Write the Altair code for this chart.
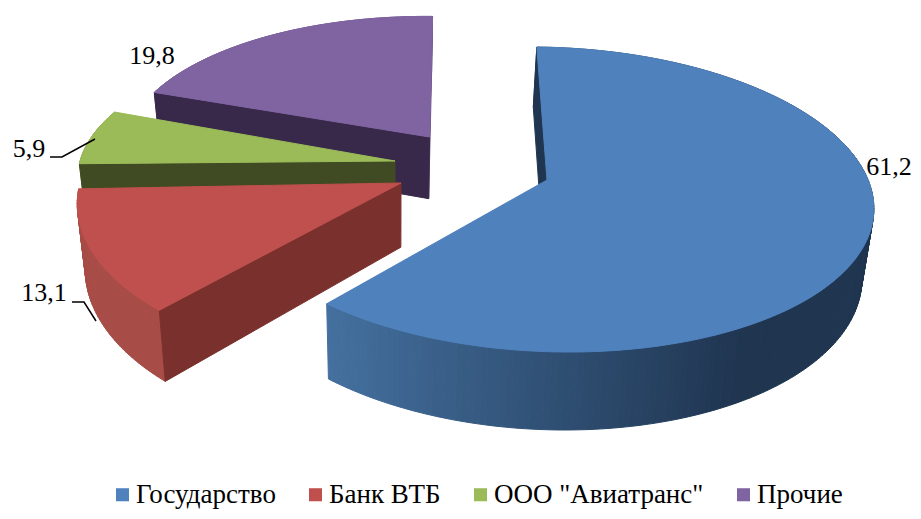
import math
import altair as alt
import pandas as pd

categories = ["Государство", "Банк ВТБ", "ООО \"Авиатранс\"", "Прочие"]
shares = [61.2, 13.1, 5.9, 19.8]
top_colors = ["#4f81bd", "#c0504d", "#9bbb59", "#8064a2"]
wall_colors = ["#1f3550", "#7a312e", "#404b23", "#38294a"]
end_wall_colors = ["#1f3550", "#7a312e", "#404b23", "#6b5388"]
show_end_wall = [False, False, False, True]
outer_light = ["#44709f", "#a84c47", "#7c9647", "#66508a"]
outer_dark = ["#1f3550", "#9c4540", "#7c9647", "#66508a"]

# layout of the drawing, in picture pixels
PAGE = 8
W, H = 905, 503
CX, CY = 396.0, 180.0
RADIUS, A, K = 325.0, 150.0, 0.128
VANISH = 0.025
START = 1.4
hubs = [(547, 180), (401, 183), (395, 161), (429.5, 137)]
depths = [68, 64, 68, 64]
x_scale = [0.988, 0.985, 0.985, 0.97]
v_scale = [1.0, 1.04, 0.955, 0.97]
start_adjust = [0, 1.2, 0, 0]
end_adjust = [0, -1, 1.5, 0]


def project(u, v):
    d = 1 + K * v
    return CX + u / d, CY - A * v / d


def drop(u, v, depth):
    x, y = project(u, v)
    return x + (CX - x) * VANISH, y + depth / (1 + K * v)


def hub_offset(ax, ay):
    dy = CY - ay
    v = dy / (A - K * dy)
    return (ax - CX) * (1 + K * v), v


def mix(a, b, t):
    t = max(0.0, min(1.0, t))
    pa = [int(a[i:i + 2], 16) for i in (1, 3, 5)]
    pb = [int(b[i:i + 2], 16) for i in (1, 3, 5)]
    return "#%02x%02x%02x" % tuple(round(p + (q - p) * t) for p, q in zip(pa, pb))


rows = []
pid = [0]


def poly(points, color):
    pid[0] += 1
    for n, (x, y) in enumerate(points):
        rows.append({"id": pid[0], "n": n, "x": x, "y": y, "c": color})


spans = []
a0 = START
for s in shares:
    spans.append((a0, a0 + s * 3.6))
    a0 += s * 3.6

centers = []
for idx in [3, 2, 1, 0]:
    u0, v0 = hub_offset(*hubs[idx])
    t0, t1 = spans[idx]
    t0 += start_adjust[idx]
    t1 += end_adjust[idx]
    vs = v_scale[idx]
    rs = RADIUS * x_scale[idx]
    dp = depths[idx]
    steps = max(4, int(t1 - t0))
    arc = []
    for i in range(steps + 1):
        t = math.radians(t0 + (t1 - t0) * i / steps)
        arc.append((u0 + rs * math.sin(t), v0 + vs * math.cos(t)))
    hub = (u0, v0)

    if show_end_wall[idx]:
        poly([project(*hub), project(*arc[-1]), drop(*arc[-1], dp), drop(*hub, dp)], end_wall_colors[idx])
    # outer curved wall, strip by strip
    for p, q in zip(arc[:-1], arc[1:]):
        tx = (project(*p)[0] - 327) / 420
        poly([project(*p), project(*q), drop(*q, dp), drop(*p, dp)],
             mix(outer_light[idx], outer_dark[idx], tx))
    poly([project(*hub), project(*arc[0]), drop(*arc[0], dp), drop(*hub, dp)], wall_colors[idx])
    # top surface
    poly([project(*hub)] + [project(*p) for p in arc], top_colors[idx])
    mid = arc[len(arc) // 2]
    centers.append((categories[idx], *project((hub[0] + mid[0]) / 2, (hub[1] + mid[1]) / 2)))

df = pd.DataFrame(rows)

xs = alt.X("x:Q", scale=alt.Scale(domain=[PAGE, PAGE + W], nice=False, zero=False), axis=None)
ys = alt.Y("y:Q", scale=alt.Scale(domain=[PAGE + H, PAGE], nice=False, zero=False), axis=None)

legend_df = pd.DataFrame(centers, columns=["cat", "x", "y"])
legend_layer = alt.Chart(legend_df).mark_square(size=1, opacity=1).encode(
    x=xs, y=ys,
    color=alt.Color("cat:N", sort=categories,
                    scale=alt.Scale(domain=categories, range=top_colors),
                    legend=alt.Legend(title=None, orient="none", legendX=101, legendY=473,
                                      direction="horizontal", columns=4, symbolType="square",
                                      symbolSize=170, symbolStrokeWidth=0, symbolOpacity=1,
                                      labelFont="Liberation Serif",
                                      labelFontSize=27, labelColor="#000000", labelOffset=0,
                                      columnPadding=26, gridAlign="each", labelLimit=400)),
)

shapes = alt.Chart(df).mark_line(interpolate="linear-closed", strokeWidth=1).encode(
    x=xs, y=ys, order="n:Q", detail="id:N",
    fill=alt.Fill("c:N", scale=None, legend=None),
    stroke=alt.Stroke("c:N", scale=None, legend=None),
)

label_values = ["61,2", "13,1", "5,9", "19,8"]
label_x = [889, 44, 29, 152]
label_y = [167, 293, 149, 56]
labels_df = pd.DataFrame({"t": label_values, "x": label_x, "y": label_y})
labels = alt.Chart(labels_df).mark_text(font="Liberation Serif", fontSize=26, color="#000000").encode(
    x=xs, y=ys, text="t:N")

leader_df = pd.DataFrame({
    "k": ["a", "a", "a", "b", "b", "b"],
    "n": [0, 1, 2, 0, 1, 2],
    "x": [50, 62, 95, 72, 84, 96],
    "y": [157, 157, 139, 302, 302, 321],
})
leaders = alt.Chart(leader_df).mark_line(color="#000000", strokeWidth=1.5).encode(
    x=xs, y=ys, order="n:Q", detail="k:N")

chart = alt.layer(legend_layer, shapes, leaders, labels).properties(
    width=W, height=H, padding=0, autosize=alt.AutoSizeParams(type="none"),
    background="#ffffff",
).configure_view(stroke=None, clip=False)

chart.save("out.html", embed_options={"renderer": "svg", "actions": False})
